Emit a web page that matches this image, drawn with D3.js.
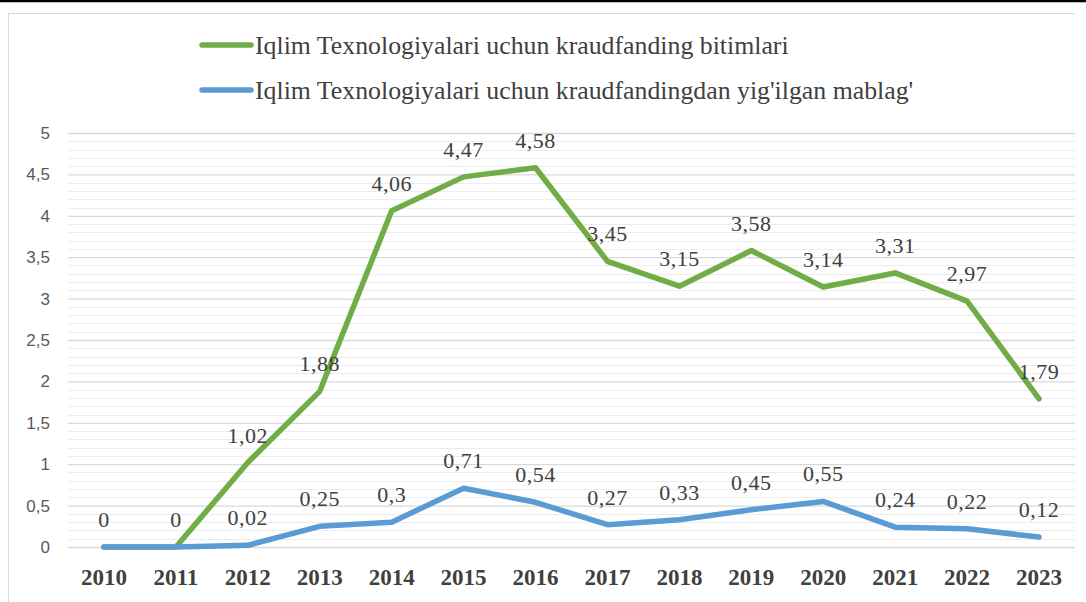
<!DOCTYPE html>
<html>
<head>
<meta charset="utf-8">
<script src="https://cdn.jsdelivr.net/npm/d3@7/dist/d3.min.js"></script>
<style>
  html, body { margin: 0; padding: 0; background: #fff; }
  svg { display: block; }
</style>
</head>
<body>
<svg id="chart" width="1086" height="602"></svg>
<script>
// Years on the category axis
const years = ["2010","2011","2012","2013","2014","2015","2016","2017","2018","2019","2020","2021","2022","2023"];
// Climate-tech crowdfunding deals
const deals = [0, 0, 1.02, 1.88, 4.06, 4.47, 4.58, 3.45, 3.15, 3.58, 3.14, 3.31, 2.97, 1.79];
// Funds raised through climate-tech crowdfunding
const funds = [0, 0, 0.02, 0.25, 0.3, 0.71, 0.54, 0.27, 0.33, 0.45, 0.55, 0.24, 0.22, 0.12];
// Value axis ticks
const yTicks = [0, 0.5, 1, 1.5, 2, 2.5, 3, 3.5, 4, 4.5, 5];
const seriesNames = [
  "Iqlim Texnologiyalari uchun kraudfanding bitimlari",
  "Iqlim Texnologiyalari uchun kraudfandingdan yig'ilgan mablag'"
];

const svg = d3.select("#chart");
const serif = "'Liberation Serif', 'DejaVu Serif', serif";
const sans = "'Liberation Sans', Arial, sans-serif";
const fmt = v => String(v).replace(".", ",");

const plotL = 68, plotR = 1075, plotT = 133, plotB = 547;
const x = d3.scaleBand().domain(years).range([plotL, plotR]);
const y = d3.scaleLinear().domain([0, 5]).range([plotB, plotT]);
const cx = d => x(d) + x.bandwidth() / 2;

// page frame
svg.append("line").attr("x1", 0).attr("x2", 1086).attr("y1", 1).attr("y2", 1)
  .attr("stroke", "#000").attr("stroke-width", 2.5);
svg.append("path").attr("d", "M8.5,602V13.5H1075")
  .attr("fill", "none").attr("stroke", "#d9d9d9").attr("stroke-width", 1);

// minor gridlines
const minor = d3.range(0, 50).map(i => i / 10).filter(v => Math.round(v * 10) % 5 !== 0);
svg.append("g").selectAll("line").data(minor).join("line")
  .attr("x1", plotL).attr("x2", plotR)
  .attr("y1", d => Math.round(y(d)) + 0.5).attr("y2", d => Math.round(y(d)) + 0.5)
  .attr("stroke", "#ececec").attr("stroke-width", 1);

// major gridlines + value axis
const yAxis = d3.axisLeft(y).tickValues(yTicks).tickSize(-(plotR - plotL)).tickPadding(18)
  .tickFormat(fmt);
const gy = svg.append("g").attr("transform", `translate(${plotL},0)`).call(yAxis);
gy.select(".domain").remove();
gy.selectAll(".tick line").attr("stroke", "#d9d9d9").attr("stroke-width", 1.3);
gy.selectAll(".tick text").attr("fill", "#595959").style("font-family", sans).style("font-size", "17px");

// category axis
const xAxis = d3.axisBottom(x).tickSize(0).tickPadding(22);
const gx = svg.append("g").attr("transform", `translate(0,${plotB})`).call(xAxis);
gx.select(".domain").remove();
gx.selectAll(".tick text").attr("fill", "#404040")
  .style("font-family", serif).style("font-size", "23px").style("font-weight", "bold");

// lines
const line = d3.line().x((d, i) => cx(years[i])).y(d => y(d));
const series = [
  { values: deals, color: "#70ad47" },
  { values: funds, color: "#5b9bd5" }
];
series.forEach(s => {
  svg.append("path").datum(s.values).attr("d", line)
    .attr("fill", "none").attr("stroke", s.color).attr("stroke-width", 5.5)
    .attr("stroke-linejoin", "round").attr("stroke-linecap", "round");
});

// data labels
const labelStyle = sel => sel.attr("text-anchor", "middle").attr("fill", "#404040")
  .style("font-family", serif).style("font-size", "22px").style("letter-spacing", "0.5px");
svg.append("g").selectAll("text").data(deals).join("text")
  .attr("x", (d, i) => cx(years[i])).attr("y", d => y(d) - 20)
  .text(d => fmt(d)).call(labelStyle);
svg.append("g").selectAll("text").data(funds.slice(2)).join("text")
  .attr("x", (d, i) => cx(years[i + 2])).attr("y", d => y(d) - 20)
  .text(d => fmt(d)).call(labelStyle);

// legend
const legend = svg.append("g");
seriesNames.forEach((name, i) => {
  const ly = 45 + i * 45;
  legend.append("line").attr("x1", 202).attr("x2", 251).attr("y1", ly).attr("y2", ly)
    .attr("stroke", series[i].color).attr("stroke-width", 5.5).attr("stroke-linecap", "round");
  legend.append("text").attr("x", 255).attr("y", ly + 9).text(name)
    .attr("fill", "#404040").style("font-family", serif).style("font-size", "25.8px");
});
</script>
</body>
</html>
